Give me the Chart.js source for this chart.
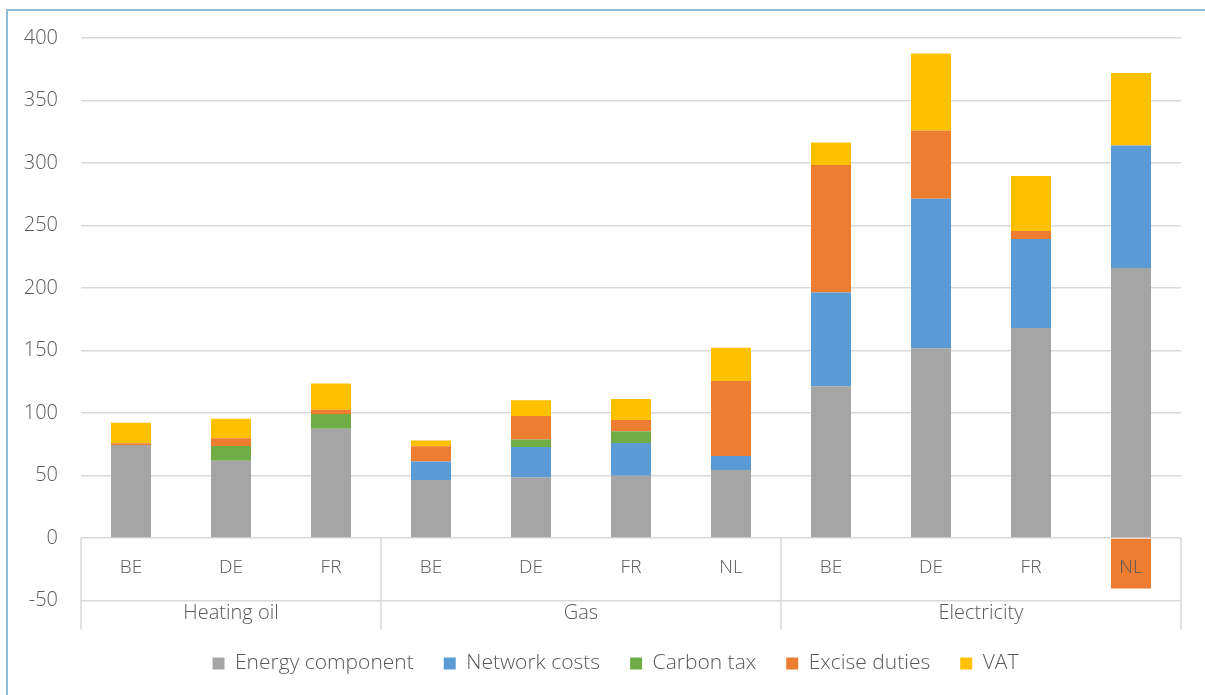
<!DOCTYPE html>
<html>
<head>
<meta charset="utf-8">
<script src="https://cdn.jsdelivr.net/npm/chart.js@4.4.1/dist/chart.umd.min.js"></script>
<style>
    html, body { margin: 0; padding: 0; background: #fff; overflow: hidden; }
    .frame { position: absolute; left: 6px; top: 9px; width: 1220px; height: 710px; border: 2px solid #8fbcd6; box-sizing: border-box; }
    .wrap { position: absolute; left: 0; top: 0; width: 1205px; height: 695px; }
</style>
</head>
<body>
<div class="frame"></div>
<div class="wrap"><canvas id="costChart" width="1205" height="695"></canvas></div>
<script>
// Data
// -----------------------------------
var countries = ['BE', 'DE', 'FR', 'BE', 'DE', 'FR', 'NL', 'BE', 'DE', 'FR', 'NL'];
var groupNames = ['Heating oil', 'Gas', 'Electricity'];
var groupSizes = [3, 4, 4];

var energy = [74.5, 61.9, 87.4, 46.5, 48.7, 49.8, 54.4, 121.4, 151.9, 168, 216];
var network = [0, 0, 0, 14.8, 24.2, 26.3, 11.2, 75, 119.6, 71.3, 98.1];
var carbon = [0, 11.8, 11.8, 0, 5.9, 9.4, 0, 0, 0, 0, 0];
var excise = [1.3, 6.1, 3.5, 12.1, 18.8, 8.9, 60, 102.1, 54.3, 6.4, -40.4];
var vat = [16.5, 15.7, 21, 4.6, 12.6, 16.9, 26.6, 18, 61.9, 43.9, 57.9];

var yTicks = [-50, 0, 50, 100, 150, 200, 250, 300, 350, 400];

var textColor = '#595959';
var lineColor = '#d9d9d9';
var fontFamily = '"Open Sans", "Segoe UI", sans-serif';

function makeSet(label, values, color) {
    return {
        label: label,
        data: values,
        backgroundColor: color,
        borderWidth: 0,
        categoryPercentage: 1,
        barPercentage: 0.4
    };
}

// Category + group labels drawn under the zero line
// -----------------------------------
var groupAxis = {
    id: 'groupAxis',
    afterLayout: function (chart) {
        // legend sits a bit right of the canvas centre, like the original
        var lg = chart.legend;
        lg.left += 25;
        lg.right += 25;
        lg.top = 623;
        lg.bottom = lg.top + lg.height;
    },
    afterDatasetsDraw: function (chart) {
        var ctx = chart.ctx;
        var x = chart.scales.x;
        var y = chart.scales.y;
        var area = chart.chartArea;
        var zero = y.getPixelForValue(0);
        var bottom = y.getPixelForValue(-50);
        var step = x.getPixelForValue(1) - x.getPixelForValue(0);
        ctx.save();
        ctx.strokeStyle = lineColor;
        ctx.lineWidth = 1.5;
        ctx.fillStyle = textColor;
        ctx.textAlign = 'center';
        ctx.textBaseline = 'middle';

        ctx.font = '300 19px ' + fontFamily;
        countries.forEach(function (c, i) {
            ctx.fillText(c, x.getPixelForValue(i), zero + 30);
        });

        ctx.font = '300 20px ' + fontFamily;
        var start = 0;
        var edges = [area.left];
        groupNames.forEach(function (name, g) {
            var end = start + groupSizes[g] - 1;
            var left = x.getPixelForValue(start) - step / 2;
            var right = x.getPixelForValue(end) + step / 2;
            edges.push(right);
            ctx.fillText(name, (left + right) / 2, bottom + 13);
            start = end + 1;
        });

        edges.forEach(function (ex) {
            ctx.beginPath();
            ctx.moveTo(ex, zero);
            ctx.lineTo(ex, bottom + 29);
            ctx.stroke();
        });
        ctx.restore();
    }
};

var costChart = new Chart(document.getElementById('costChart'), {
    type: 'bar',
    data: {
        labels: countries,
        datasets: [
            makeSet('Energy component', energy, '#a5a5a5'),
            makeSet('Network costs', network, '#5b9bd5'),
            makeSet('Carbon tax', carbon, '#70ad47'),
            makeSet('Excise duties', excise, '#ed7d31'),
            makeSet('VAT', vat, '#ffc000')
        ]
    },
    options: {
        responsive: false,
        animation: false,
        layout: {
            padding: { left: 0, right: 24, top: 38, bottom: 0 }
        },
        plugins: {
            tooltip: { enabled: false },
            legend: {
                position: 'bottom',
                labels: {
                    boxWidth: 12,
                    boxHeight: 12,
                    padding: 30,
                    color: textColor,
                    font: { family: fontFamily, size: 21, weight: '300' }
                }
            }
        },
        scales: {
            x: {
                stacked: true,
                grid: { display: false },
                border: { display: false },
                ticks: { display: false },
                afterFit: function (s) { s.height = 33.5; }
            },
            y: {
                stacked: true,
                min: -50,
                max: 400,
                afterFit: function (s) { s.width = 81; },
                afterBuildTicks: function (s) {
                    s.ticks = yTicks.map(function (v) { return { value: v }; });
                },
                grid: { color: lineColor, lineWidth: 1.5, drawTicks: false },
                border: { display: false },
                ticks: {
                    padding: 23,
                    color: textColor,
                    font: { family: fontFamily, size: 20, weight: '300' }
                }
            }
        }
    },
    plugins: [groupAxis]
});
</script>
</body>
</html>
